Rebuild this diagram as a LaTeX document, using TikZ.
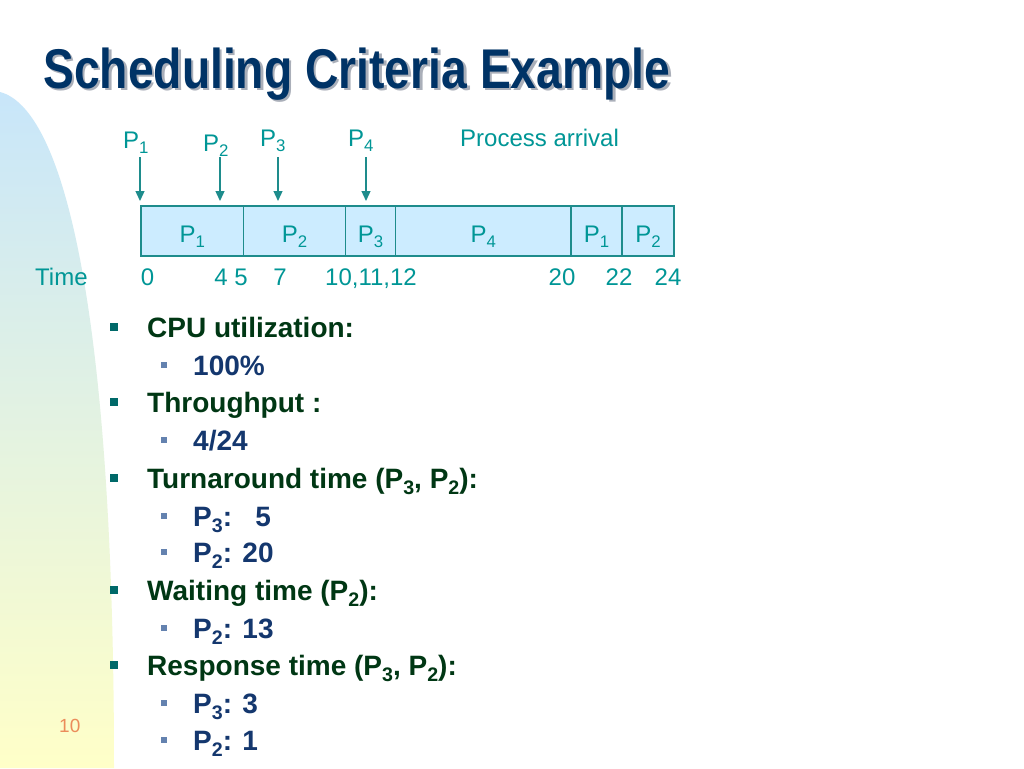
\documentclass[tikz,border=0pt]{standalone}
\usepackage{fontspec}
\setmainfont{Liberation Sans}
\usetikzlibrary{arrows.meta}
\definecolor{teal1}{RGB}{0,150,150}
\definecolor{tealline}{RGB}{30,140,140}
\definecolor{boxfill}{RGB}{204,236,255}
\definecolor{navy}{RGB}{0,51,102}
\definecolor{dgreen}{RGB}{0,55,20}
\definecolor{subblue}{RGB}{20,55,110}
\definecolor{bulmain}{RGB}{0,105,105}
\definecolor{bulsub}{RGB}{100,130,175}
\definecolor{bgtop}{RGB}{200,230,250}
\definecolor{bgbot}{RGB}{255,255,200}
\definecolor{pagenum}{RGB}{235,140,90}
\definecolor{shadowc}{RGB}{170,175,185}
\newcommand\lowidx[1]{\raisebox{-0.22em}{\scalebox{0.7}{#1}}}
\newcommand\titletext{\scalebox{0.826}[1]{\bfseries\fontsize{56}{60}\selectfont Scheduling Criteria Example}}
\begin{document}
\begin{tikzpicture}[x=1pt,y=-1pt,
  lbl/.style={text=teal1, font=\fontsize{24}{28}\selectfont, inner sep=0pt, anchor=base},
  lblw/.style={lbl, anchor=base west},
  gbox/.style={draw=tealline, fill=boxfill, line width=1.2pt, inner sep=0pt, minimum height=50pt},
  arr/.style={draw=tealline, line width=1.3pt, -{Triangle[length=10pt,width=9pt]}},
  mainitem/.style={text=dgreen, font=\bfseries\fontsize{28}{32}\selectfont, anchor=base west, inner sep=0pt},
  subitem/.style={text=subblue, font=\bfseries\fontsize{28}{32}\selectfont, anchor=base west, inner sep=0pt},
  mainbul/.style={fill=bulmain, minimum size=8pt, inner sep=0pt},
  subbul/.style={fill=bulsub, minimum size=6pt, inner sep=0pt}]
\useasboundingbox (0,0) rectangle (1024,768);
\fill[white] (0,0) rectangle (1024,768);
% background swoosh
\shade[top color=bgtop, bottom color=bgbot] (0,92) .. controls (62,108) and (114,300) .. (114,768) -- (0,768) -- cycle;
% title with shadow
\node[anchor=base west, inner sep=0pt, text=shadowc] (titleshadow) at (45.5,90.5) {\titletext};
\node[anchor=base west, inner sep=0pt, text=navy] (title) at (43,88) {\titletext};
% arrival labels
\node[lblw] (a1) at (123,148) {P\lowidx{1}};
\node[lblw] (a2) at (203,151) {P\lowidx{2}};
\node[lblw] (a3) at (260,146) {P\lowidx{3}};
\node[lblw] (a4) at (348,146) {P\lowidx{4}};
\node[lblw] (arrival) at (460,146) {Process arrival};
% arrows
\coordinate (s1) at (140,157); \coordinate (e1) at (140,201);
\coordinate (s2) at (220,157); \coordinate (e2) at (220,201);
\coordinate (s3) at (278,157); \coordinate (e3) at (278,201);
\coordinate (s4) at (366,157); \coordinate (e4) at (366,201);
\draw[arr] (s1) -- (e1);
\draw[arr] (s2) -- (e2);
\draw[arr] (s3) -- (e3);
\draw[arr] (s4) -- (e4);
% gantt boxes
\node[gbox, minimum width=102.5pt] (b1) at (192.25,231) {};
\node[gbox, minimum width=102pt] (b2) at (294.5,231) {};
\node[gbox, minimum width=50pt] (b3) at (370.5,231) {};
\node[gbox, minimum width=175.5pt] (b4) at (483.25,231) {};
\node[gbox, minimum width=51pt] (b5) at (596.5,231) {};
\node[gbox, minimum width=52pt] (b6) at (648,231) {};
\node[lbl] (l1) at (192.25,242) {P\lowidx{1}};
\node[lbl] (l2) at (294.5,242) {P\lowidx{2}};
\node[lbl] (l3) at (370.5,242) {P\lowidx{3}};
\node[lbl] (l4) at (483.25,242) {P\lowidx{4}};
\node[lbl] (l5) at (596.5,242) {P\lowidx{1}};
\node[lbl] (l6) at (648,242) {P\lowidx{2}};
% time axis
\node[lblw] (time) at (35,285) {Time};
\node[lbl] (t0) at (147.5,285) {0};
\node[lbl] (t4) at (221,285) {4};
\node[lbl] (t5) at (241,285) {5};
\node[lbl] (t7) at (280,285) {7};
\node[lbl] (t10) at (371,285) {10,11,12};
\node[lbl] (t20) at (562,285) {20};
\node[lbl] (t22) at (619,285) {22};
\node[lbl] (t24) at (668,285) {24};
% bullets
\node[mainbul] (m1) at (114,327) {};
\node[mainitem] (cpu) at (147,337) {CPU utilization:};
\node[subbul] (n1) at (164,365) {};
\node[subitem] (cpuv) at (193,375) {100\%};
\node[mainbul] (m2) at (114,402) {};
\node[mainitem] (thr) at (147,412) {Throughput :};
\node[subbul] (n2) at (164,440) {};
\node[subitem] (thrv) at (193,450) {4/24};
\node[mainbul] (m3) at (114,478) {};
\node[mainitem] (tat) at (147,488) {Turnaround time (P\lowidx{3}, P\lowidx{2}):};
\node[subbul] (n3) at (164,516) {};
\node[subitem] (tat3) at (193,526) {P\lowidx{3}:\ \ \ 5};
\node[subbul] (n4) at (164,552) {};
\node[subitem] (tat2) at (193,562) {P\lowidx{2}: 20};
\node[mainbul] (m4) at (114,590) {};
\node[mainitem] (wt) at (147,600) {Waiting time (P\lowidx{2}):};
\node[subbul] (n5) at (164,628) {};
\node[subitem] (wt2) at (193,638) {P\lowidx{2}: 13};
\node[mainbul] (m5) at (114,665) {};
\node[mainitem] (rt) at (147,675) {Response time (P\lowidx{3}, P\lowidx{2}):};
\node[subbul] (n6) at (164,703) {};
\node[subitem] (rt3) at (193,713) {P\lowidx{3}: 3};
\node[subbul] (n7) at (164,740) {};
\node[subitem] (rt2) at (193,750) {P\lowidx{2}: 1};
% page number
\node[anchor=base west, inner sep=0pt, text=pagenum, font=\fontsize{19}{22}\selectfont] (page) at (59,732) {10};
\end{tikzpicture}
\end{document}
